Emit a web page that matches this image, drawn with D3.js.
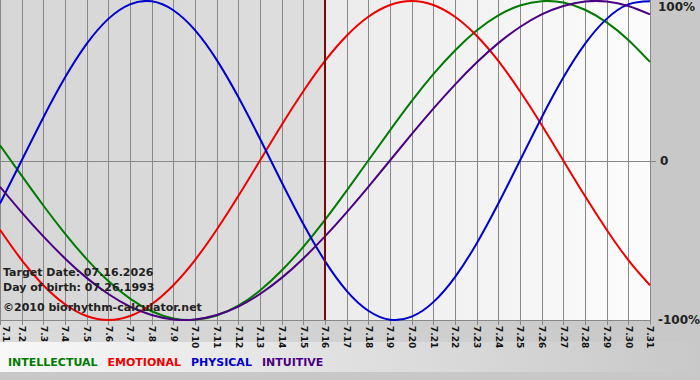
<!DOCTYPE html>
<html>
<head>
<meta charset="utf-8">
<script src="https://cdn.jsdelivr.net/npm/d3@7"></script>
<style>
  body { margin: 0; background: #c8c8c8; }
  svg { display: block; }
  .tick-label { font-family: "DejaVu Sans", sans-serif; font-size: 9px; font-weight: bold; fill: #111; }
  .pct { font-family: "DejaVu Sans", sans-serif; font-size: 12px; font-weight: bold; fill: #222; }
  .info { font-family: "DejaVu Sans", sans-serif; font-size: 11px; font-weight: bold; fill: #222; }
  .legend { font-family: "DejaVu Sans", sans-serif; font-size: 11px; font-weight: bold; }
</style>
</head>
<body>
<div id="chart"></div>
<script>
var W = 700, H = 380,
  plot = { left: 0, top: 1, right: 650, bottom: 320 };

// day labels, July 2026
var days = ["7.1","7.2","7.3","7.4","7.5","7.6","7.7","7.8","7.9","7.10",
  "7.11","7.12","7.13","7.14","7.15","7.16","7.17","7.18","7.19","7.20",
  "7.21","7.22","7.23","7.24","7.25","7.26","7.27","7.28","7.29","7.30","7.31"];
var targetDay = "7.16";

// curve values read per day (-1..1)
var intellectual = [0.095,-0.095,-0.282,-0.458,-0.618,-0.756,-0.866,-0.945,-0.990,-0.999,
  -0.972,-0.910,-0.815,-0.690,-0.541,-0.372,-0.189,0.000,0.189,0.372,
  0.541,0.690,0.815,0.910,0.972,0.999,0.990,0.945,0.866,0.756,0.618];
var emotional = [-0.434,-0.624,-0.782,-0.901,-0.975,-1.000,-0.975,-0.901,-0.782,-0.624,
  -0.434,-0.223,0.000,0.223,0.434,0.624,0.782,0.901,0.975,1.000,
  0.975,0.901,0.782,0.624,0.434,0.223,0.000,-0.223,-0.434,-0.624,-0.782];
var physical = [-0.270,0.000,0.270,0.520,0.731,0.888,0.979,0.998,0.942,0.817,
  0.631,0.398,0.136,-0.136,-0.398,-0.631,-0.817,-0.942,-0.998,-0.979,
  -0.888,-0.731,-0.520,-0.270,0.000,0.270,0.520,0.731,0.888,0.979,0.998];
var intuitive = [-0.165,-0.325,-0.476,-0.614,-0.736,-0.837,-0.916,-0.969,-0.997,-0.997,
  -0.969,-0.916,-0.837,-0.736,-0.614,-0.476,-0.325,-0.165,0.000,0.165,
  0.325,0.476,0.614,0.736,0.837,0.916,0.969,0.997,0.997,0.969,0.916];

var seriesNames = ["INTELLECTUAL","EMOTIONAL","PHYSICAL","INTUITIVE"];
var seriesColors = ["#007a00","#ee0000","#0000cc","#4b0082"];
var yTicks = [1, 0, -1],
  yTickLabels = ["100%", "0", "-100%"];
var infoLines = ["Target Date: 07.16.2026", "Day of birth: 07.26.1993", "\u00a92010 biorhythm-calculator.net"];

var svg = d3.select("#chart").append("svg")
  .attr("width", W)
  .attr("height", H);

var defs = svg.append("defs");
function grad(id, c0, c1) {
  var g = defs.append("linearGradient").attr("id", id)
    .attr("x1", "0%").attr("x2", "100%").attr("y1", "0%").attr("y2", "0%");
  g.append("stop").attr("offset", "0%").attr("stop-color", c0);
  g.append("stop").attr("offset", "100%").attr("stop-color", c1);
}
grad("past", "#d6d6d6", "#dedede");
grad("future", "#ebebeb", "#fcfcfc");
grad("below", "#dcdcdc", "#c8c8c8");
grad("legendBg", "#f8f8f8", "#c8c8c8");

var x = d3.scalePoint().domain(days).range([plot.left, plot.right]);
var y = d3.scaleLinear().domain([-1, 1]).range([plot.bottom, plot.top]);
var tx = x(targetDay);

// backgrounds
svg.append("rect").attr("x", 0).attr("y", 0).attr("width", W).attr("height", H).attr("fill", "#c8c8c8");
svg.append("rect").attr("x", 0).attr("y", plot.bottom).attr("width", plot.right).attr("height", 22).attr("fill", "url(#below)");
svg.append("rect").attr("x", 0).attr("y", 342).attr("width", W).attr("height", 30).attr("fill", "url(#legendBg)");
svg.append("rect").attr("x", plot.left).attr("y", 0).attr("width", tx - plot.left).attr("height", plot.bottom).attr("fill", "url(#past)");
svg.append("rect").attr("x", tx).attr("y", 0).attr("width", plot.right - tx).attr("height", plot.bottom).attr("fill", "url(#future)");

// vertical day grid + ticks
var xAxis = d3.axisBottom(x).tickSize(plot.bottom + 5).tickPadding(3);
var gx = svg.append("g").call(xAxis);
gx.select(".domain").remove();
gx.selectAll(".tick line").attr("stroke", "#888").attr("shape-rendering", "crispEdges");
gx.selectAll(".tick text")
  .attr("class", "tick-label")
  .attr("transform", "rotate(90)")
  .attr("x", plot.bottom + 6)
  .attr("y", 0)
  .attr("dy", "0.35em")
  .style("text-anchor", "start");
// first label sits on the left edge, nudge it inside
gx.selectAll(".tick text").filter(function(d){ return d === days[0]; }).attr("dy", "-0.25em");

// bottom border
svg.append("line").attr("x1", plot.left).attr("x2", plot.right)
  .attr("y1", plot.bottom + 0.5).attr("y2", plot.bottom + 0.5)
  .attr("stroke", "#888");

// y ticks on the right
var yAxis = d3.axisRight(y).tickValues(yTicks).tickSize(0)
  .tickFormat(function(d, i){ return yTickLabels[i]; });
var gy = svg.append("g").attr("transform", "translate(" + plot.right + ",0)").call(yAxis);
gy.select(".domain").remove();
gy.selectAll(".tick text").attr("class", "pct").attr("x", 8).attr("fill", null);
gy.selectAll(".tick text").filter(function(d){ return d === 1; }).attr("dy", "0.75em");
gy.selectAll(".tick text").filter(function(d){ return d === 0; }).attr("x", 10);

// zero line
svg.append("line").attr("x1", plot.left).attr("x2", plot.right + 6)
  .attr("y1", Math.round(y(0)) + 0.5).attr("y2", Math.round(y(0)) + 0.5)
  .attr("stroke", "#888");

// curves
var line = d3.line()
  .x(function(d, i){ return x(days[i]); })
  .y(function(d){ return y(d); })
  .curve(d3.curveNatural);

var allSeries = [intellectual, emotional, physical, intuitive];
svg.selectAll(".curve")
  .data(allSeries).enter().append("path")
  .attr("class", "curve")
  .attr("d", line)
  .attr("fill", "none")
  .attr("stroke", function(d, i){ return seriesColors[i]; })
  .attr("stroke-width", 2);

// target date line
svg.append("line").attr("x1", tx).attr("x2", tx)
  .attr("y1", 0).attr("y2", plot.bottom)
  .attr("stroke", "#7a0a0a").attr("stroke-width", 2);

// info text
svg.selectAll(".info")
  .data(infoLines).enter().append("text")
  .attr("class", "info")
  .attr("x", 3)
  .attr("y", function(d, i){ return [276, 291, 311][i]; })
  .text(function(d){ return d; });

// legend
var lx = 8;
seriesNames.forEach(function(name, i){
  var t = svg.append("text").attr("class", "legend")
    .attr("x", lx).attr("y", 366)
    .attr("fill", seriesColors[i])
    .text(name);
  lx += t.node().getComputedTextLength() + 10;
});
</script>
</body>
</html>
